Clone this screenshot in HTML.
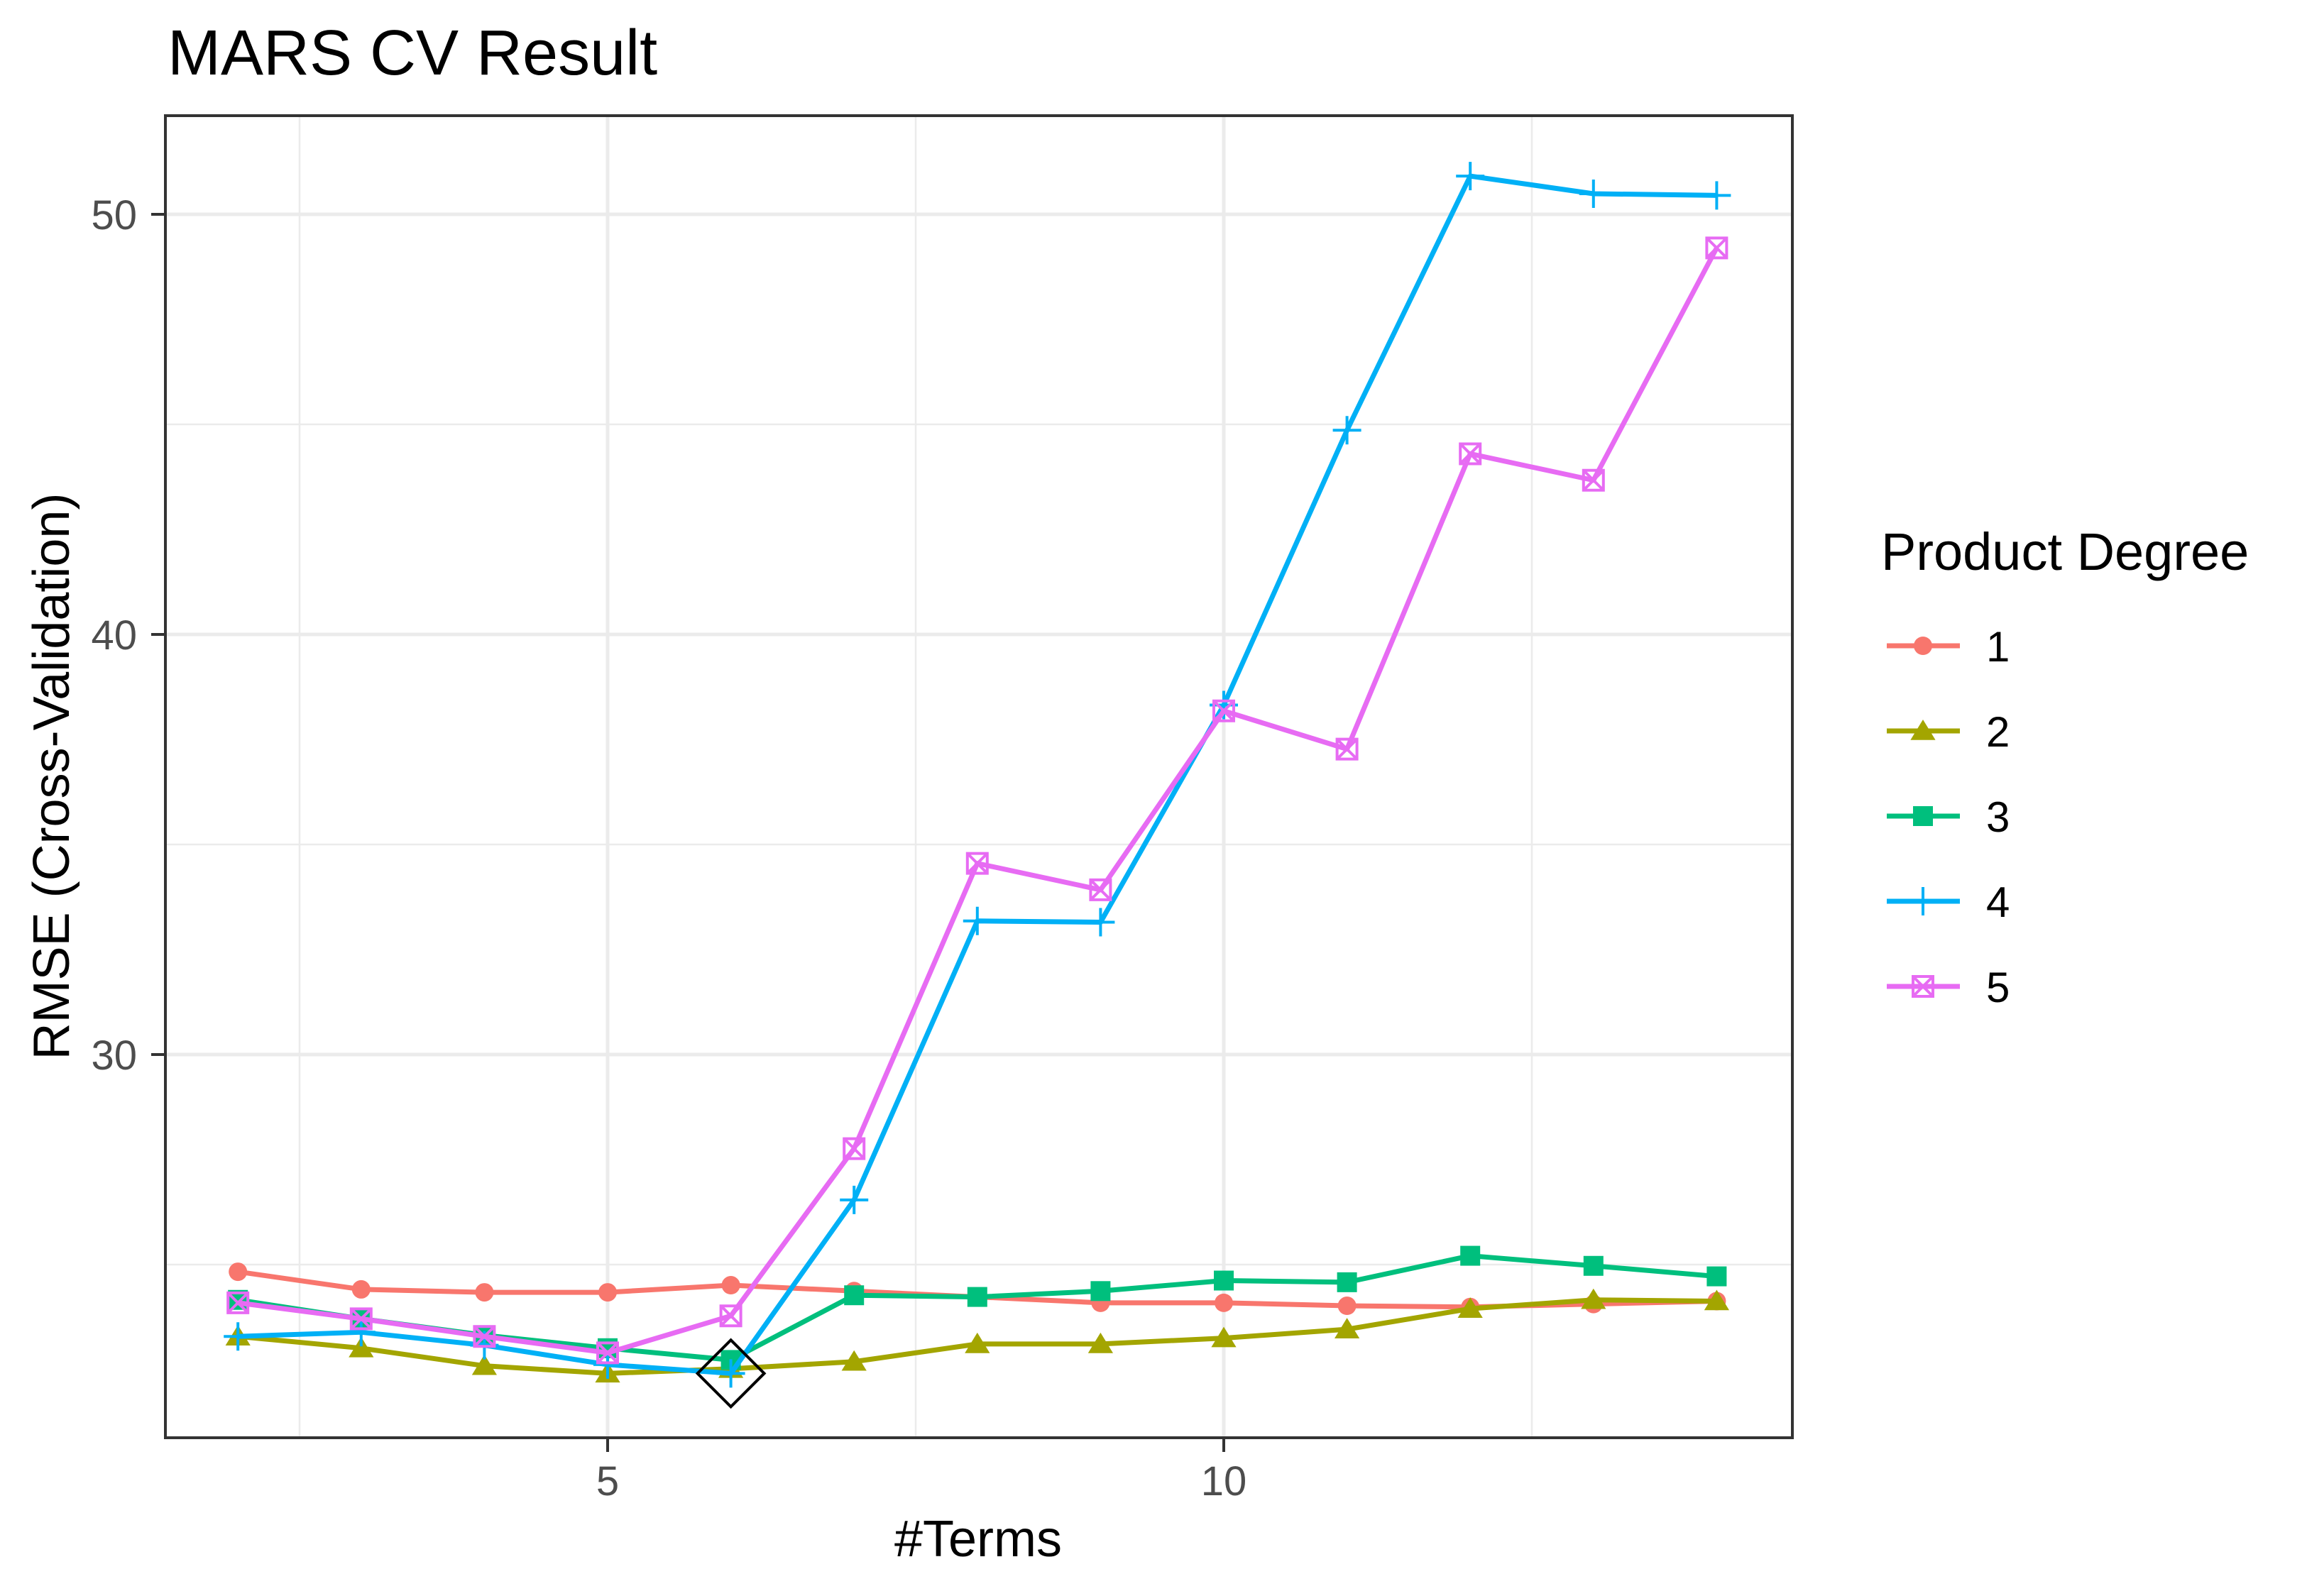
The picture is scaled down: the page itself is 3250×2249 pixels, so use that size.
<!DOCTYPE html>
<html><head><meta charset="utf-8"><style>
html,body{margin:0;padding:0;background:#fff;}
svg{display:block;font-family:"Liberation Sans",Arial,sans-serif;}
</style></head><body>
<svg id="chart" width="3250" height="2249" viewBox="0 0 3250 2249">
<rect x="0" y="0" width="3250" height="2249" fill="#fff"/>
<text x="236" y="105" font-size="90" fill="#000">MARS CV Result</text>
<g id="grid"></g>
<g id="series"></g>
<rect x="233" y="163" width="2292" height="1863" fill="none" stroke="#333" stroke-width="4"/>
<g id="axes"></g>
<text x="1378" y="2193" font-size="72" text-anchor="middle" fill="#000">#Terms</text>
<text transform="translate(97,1094) rotate(-90)" font-size="72" text-anchor="middle" fill="#000">RMSE (Cross-Validation)</text>
<g id="legend">
<text x="2650" y="803" font-size="74" fill="#000">Product Degree</text>
</g>
</svg>
<script>
const terms = [2,3,4,5,6,7,8,9,10,11,12,13,14];
const deg1 = [24.83,24.41,24.34,24.34,24.51,24.37,24.23,24.09,24.09,24.02,23.99,24.06,24.13];
const deg2 = [23.29,23.01,22.59,22.41,22.52,22.69,23.11,23.11,23.25,23.46,23.95,24.16,24.13];
const deg3 = [24.16,23.71,23.32,23.01,22.73,24.27,24.23,24.37,24.62,24.58,25.21,24.97,24.72];
const deg4 = [23.29,23.39,23.08,22.62,22.41,26.54,33.18,33.15,38.32,44.86,50.91,50.49,50.45];
const deg5 = [24.09,23.71,23.29,22.90,23.78,27.76,34.55,33.92,38.18,37.27,44.30,43.67,49.20];
const seriesNames = ["1","2","3","4","5"];
const xTicks = [5,10];
const xMinor = [2.5,7.5,12.5];
const yTicks = [30,40,50];
const yMinor = [25,35,45];
const best = [6,22.41];

const NS="http://www.w3.org/2000/svg";
const X0=233,X1=2525,Y0=163,Y1=2026;
function xs(v){return 856+(v-5)*173.6;}
function ys(v){return 302+(50-v)*59.2;}
function mk(tag,attrs,parent){const e=document.createElementNS(NS,tag);for(const k in attrs)e.setAttribute(k,attrs[k]);parent.appendChild(e);return e;}
const grid=document.getElementById('grid'),axes=document.getElementById('axes'),ser=document.getElementById('series'),leg=document.getElementById('legend');

xMinor.forEach(v=>{const l=mk('line',{x1:xs(v),x2:xs(v),y1:Y0,y2:Y1,stroke:'#ebebeb','stroke-width':2.5},grid);

});
yMinor.forEach(v=>{const l=mk('line',{x1:X0,x2:X1,y1:ys(v),y2:ys(v),stroke:'#ebebeb','stroke-width':2.5},grid);

});
xTicks.forEach(v=>{const l=mk('line',{x1:xs(v),x2:xs(v),y1:Y0,y2:Y1,stroke:'#ebebeb','stroke-width':5},grid);


const t=mk('line',{x1:xs(v),x2:xs(v),y1:Y1,y2:Y1+20,stroke:'#333','stroke-width':4},axes);


const tx=mk('text',{x:xs(v),y:2107,'font-size':58,fill:'#4d4d4d','text-anchor':'middle'},axes);tx.textContent=v;

});
yTicks.forEach(v=>{const l=mk('line',{x1:X0,x2:X1,y1:ys(v),y2:ys(v),stroke:'#ebebeb','stroke-width':5},grid);


const t=mk('line',{x1:X0-20,x2:X0,y1:ys(v),y2:ys(v),stroke:'#333','stroke-width':4},axes);


const tx=mk('text',{x:193,y:ys(v)+21,'font-size':58,fill:'#4d4d4d','text-anchor':'end'},axes);tx.textContent=v;

});

const colors=['#F8766D','#A3A500','#00BF7D','#00B0F6','#E76BF3'];
const data=[deg1,deg2,deg3,deg4,deg5];
function marker(i,x,y,g,s){
  s=s||1;let e;
  if(i===0){e=mk('circle',{cx:x,cy:y,r:13*s,fill:colors[0]},g);}
  else if(i===1){const h=16*s;e=mk('polygon',{points:`${x},${y-h} ${x+h*1.1},${y+h*0.8} ${x-h*1.1},${y+h*0.8}`,fill:colors[1]},g);}
  else if(i===2){const h=14*s;e=mk('rect',{x:x-h,y:y-h,width:2*h,height:2*h,fill:colors[2]},g);}
  else if(i===3){const h=20*s;e=mk('path',{d:`M${x-h},${y}H${x+h}M${x},${y-h}V${y+h}`,stroke:colors[3],'stroke-width':4,fill:'none'},g);}
  else {const h=14*s;e=mk('path',{d:`M${x-h},${y-h}h${2*h}v${2*h}h${-2*h}zM${x-h},${y-h}L${x+h},${y+h}M${x+h},${y-h}L${x-h},${y+h}`,stroke:colors[4],'stroke-width':4,fill:'none'},g);}
  return e;
}
data.forEach((vals,i)=>{
  const g=mk('g',{},ser);
  
  
  const p=mk('polyline',{points:terms.map((t,j)=>xs(t)+','+ys(vals[j])).join(' '),fill:'none',stroke:colors[i],'stroke-width':7,'stroke-linejoin':'round'},g);
  
  
  terms.forEach((t,j)=>{const m=marker(i,xs(t),ys(vals[j]),g);
    
    });
  const ly=910+i*120;
  const lg=mk('g',{},leg);
  
  
  mk('line',{x1:2658,x2:2761,y1:ly,y2:ly,stroke:colors[i],'stroke-width':7},lg);
  marker(i,2709,ly,lg);
  const t=mk('text',{x:2798,y:ly+22,'font-size':60,fill:'#000'},lg);t.textContent=seriesNames[i];
});
const bx=xs(best[0]),by=ys(best[1]);
const d=mk('polygon',{points:`${bx},${by-47} ${bx+47},${by} ${bx},${by+47} ${bx-47},${by}`,fill:'none',stroke:'#000','stroke-width':4},ser);


</script>
</body></html>
